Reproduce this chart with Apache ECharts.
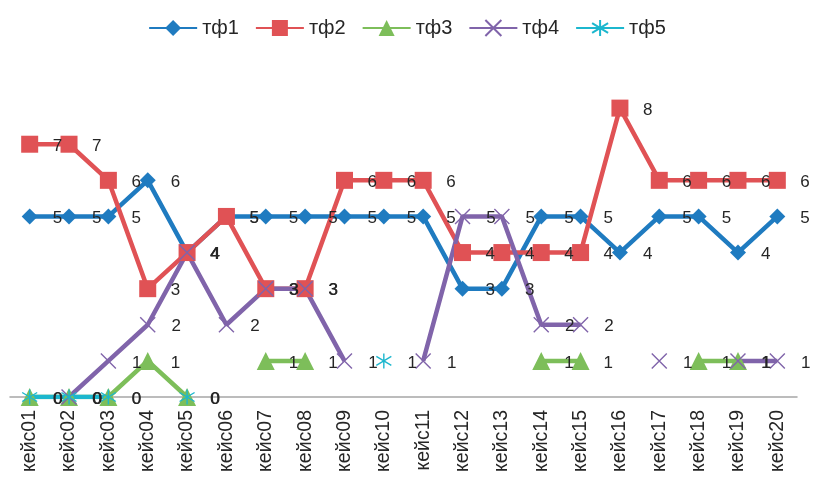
<!DOCTYPE html>
<html>
<head>
<meta charset="utf-8">
<script src="https://cdn.jsdelivr.net/npm/echarts@6/dist/echarts.min.js"></script>
<style>
html,body{margin:0;padding:0;background:#fff;}
#chart{width:814px;height:477px;}
</style>
</head>
<body>
<div id="chart"></div>
<script>
var categories = ['кейс01','кейс02','кейс03','кейс04','кейс05','кейс06','кейс07','кейс08','кейс09','кейс10',
                  'кейс11','кейс12','кейс13','кейс14','кейс15','кейс16','кейс17','кейс18','кейс19','кейс20'];
var seriesNames = ['тф1','тф2','тф3','тф4','тф5'];
var tf1 = [5,5,5,6,4,5,5,5,5,5,5,3,3,5,5,4,5,5,4,5];
var tf2 = [7,7,6,3,4,5,3,3,6,6,6,4,4,4,4,8,6,6,6,6];
var tf3 = [0,0,0,1,0,null,1,1,null,null,null,null,null,1,1,null,null,1,1,null];
var tf4 = [null,0,1,2,4,2,3,3,1,null,1,5,5,2,2,null,1,null,1,1];
var tf5 = [0,0,0,null,0,null,null,null,null,1,null,null,null,null,null,null,null,null,null,null];

var colors = ['#1F7BC0','#E05255','#7DBE5A','#8064AA','#1CB7CE'];
var FONT = 'Liberation Sans';

function mk(name, data, color, symbol, size, dist, stroke) {
  var s = {
    name: name, type: 'line', data: data,
    symbol: symbol, symbolSize: size, showAllSymbol: true,
    lineStyle: {color: color, width: 4.5},
    itemStyle: {color: color},
    label: {show: true, position: 'right', distance: dist, color: '#262626',
            fontFamily: FONT, fontSize: 17, formatter: '{c}', offset: [0, 2]},
    emphasis: {disabled: true}
  };
  if (stroke) {
    s.itemStyle = {color: 'rgba(0,0,0,0)', borderColor: color, borderWidth: 1.4};
  }
  return s;
}

var chart = echarts.init(document.getElementById('chart'));
chart.setOption({
  animation: false,
  backgroundColor: '#fff',
  color: colors,
  legend: {
    top: 13, left: 'center',
    itemWidth: 48, itemHeight: 20, itemGap: 16,
    textStyle: {fontFamily: FONT, fontSize: 20, color: '#262626'},
    data: seriesNames
  },
  grid: {left: 10, right: 17, top: 72, bottom: 80, containLabel: false},
  xAxis: {
    type: 'category', data: categories, boundaryGap: true,
    axisLine: {lineStyle: {color: '#A6A6A6', width: 1.5}},
    axisTick: {show: false},
    axisLabel: {rotate: 90, margin: 13, interval: 0, fontFamily: FONT, fontSize: 19.5, color: '#262626'}
  },
  yAxis: {
    type: 'value', min: 0, max: 9, interval: 1, show: false,
    splitLine: {show: false}
  },
  series: [
    mk(seriesNames[0], tf1, colors[0], 'diamond', 16, 15),
    mk(seriesNames[1], tf2, colors[1], 'rect', 17, 14.5),
    mk(seriesNames[2], tf3, colors[2], 'triangle', 18, 14),
    mk(seriesNames[3], tf4, colors[3], 'path://M0,0L10,10M10,0L0,10', 15, 15.5, true),
    mk(seriesNames[4], tf5, colors[4], 'path://M5,0L5,10M0,2L10,8M0,8L10,2', 15, 15.5, true)
  ]
});
</script>
</body>
</html>
